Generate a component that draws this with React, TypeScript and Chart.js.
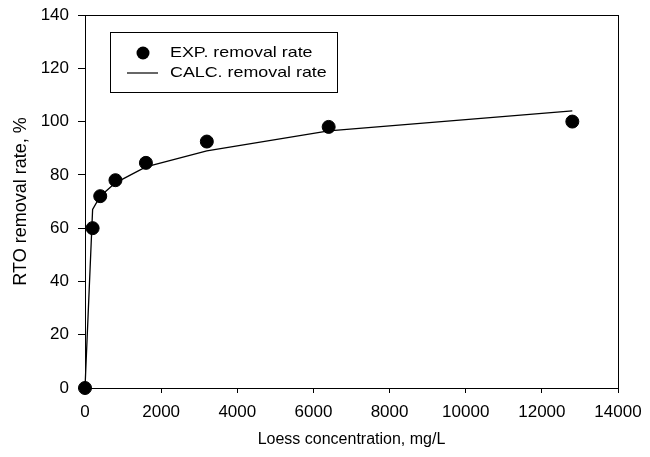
import React, { useEffect, useRef } from "react";
import { Chart, registerables } from "chart.js";

Chart.register(...registerables);

const concentrations = [0, 200, 400, 800, 1600, 3200, 6400, 12800];
const expRemoval = [0, 60, 72, 78, 84.5, 92.5, 98, 100];
const calcRemoval = [0, 67, 72, 77, 83, 89, 96.5, 104];
const legendLabels = ["EXP. removal rate", "CALC. removal rate"];
const xTitle = "Loess concentration, mg/L";
const yTitle = "RTO removal rate, %";

const FONT = "'Liberation Sans', Arial, sans-serif";

const framePlugin = {
  id: "frameLegend",
  afterDraw(chart: any) {
    const { ctx, chartArea } = chart;
    ctx.save();
    ctx.strokeStyle = "#000";
    ctx.lineWidth = 1;
    ctx.strokeRect(
      Math.round(chartArea.left) + 0.5,
      Math.round(chartArea.top) + 0.5,
      Math.round(chartArea.right - chartArea.left),
      Math.round(chartArea.bottom - chartArea.top)
    );
    // legend
    const bx = 110.5, by = 32.5, bw = 227, bh = 60;
    ctx.fillStyle = "#fff";
    ctx.fillRect(bx, by, bw, bh);
    ctx.strokeRect(bx, by, bw, bh);
    ctx.fillStyle = "#000";
    ctx.beginPath();
    ctx.arc(143, 53, 6.5, 0, Math.PI * 2);
    ctx.fill();
    ctx.beginPath();
    ctx.lineWidth = 1.2;
    ctx.moveTo(127, 73);
    ctx.lineTo(158, 73);
    ctx.stroke();
    ctx.font = `15px ${FONT}`;
    ctx.textBaseline = "middle";
    ctx.textAlign = "left";
    ctx.translate(170, 0);
    ctx.scale(1.19, 1);
    ctx.fillText(legendLabels[0], 0, 53);
    ctx.fillText(legendLabels[1], 0, 73);
    ctx.restore();
  },
};

export default function App() {
  const ref = useRef<HTMLCanvasElement>(null);
  useEffect(() => {
    document.body.style.margin = "0";
    const canvas = ref.current!;
    const chart = new Chart(canvas, {
      type: "scatter",
      data: {
        datasets: [
          {
            label: legendLabels[0],
            data: concentrations.map((x, i) => ({ x, y: expRemoval[i] })),
            backgroundColor: "#000",
            borderColor: "#000",
            pointRadius: 6.5,
            pointHoverRadius: 6.5,
            showLine: false,
            clip: false as any,
          },
          {
            label: legendLabels[1],
            data: concentrations.map((x, i) => ({ x, y: calcRemoval[i] })),
            borderColor: "#000",
            backgroundColor: "#000",
            borderWidth: 1.3,
            pointRadius: 0,
            showLine: true,
            tension: 0,
            clip: false as any,
          },
        ],
      },
      options: {
        animation: false,
        responsive: false,
        events: [],
        layout: { padding: { left: 0, top: 15, right: 32, bottom: 0 } },
        plugins: { legend: { display: false }, tooltip: { enabled: false } },
        scales: {
          x: {
            type: "linear",
            min: 0,
            max: 14000,
            ticks: {
              stepSize: 2000,
              color: "#000",
              padding: 9,
              font: { family: FONT, size: 17 },
              maxRotation: 0,
              callback: (v: any) => String(v),
            },
            grid: {
              drawOnChartArea: false,
              drawTicks: true,
              tickLength: 5,
              tickColor: "#000",
            },
            border: { display: true, color: "#000", width: 1 },
            title: {
              display: true,
              text: xTitle,
              color: "#000",
              font: { family: FONT, size: 16 },
              padding: { top: 10, bottom: 8 },
            },
            afterFit(scale: any) {
              scale.height = 69;
              scale.paddingLeft = 0;
              scale.paddingRight = 0;
            },
          },
          y: {
            type: "linear",
            min: 0,
            max: 140,
            ticks: {
              stepSize: 20,
              color: "#000",
              padding: 9,
              font: { family: FONT, size: 17 },
              callback: (v: any) => String(v),
            },
            grid: {
              drawOnChartArea: false,
              drawTicks: true,
              tickLength: 7,
              tickColor: "#000",
            },
            border: { display: true, color: "#000", width: 1 },
            title: {
              display: true,
              text: yTitle,
              color: "#000",
              font: { family: FONT, size: 18 },
              padding: { top: 10, bottom: 4 },
            },
            afterFit(scale: any) {
              scale.width = 85;
              scale.paddingTop = 0;
              scale.paddingBottom = 0;
            },
          },
        },
      },
      plugins: [framePlugin],
    });
    return () => chart.destroy();
  }, []);
  return (
    <div style={{ width: 650, height: 457, background: "#fff" }}>
      <canvas ref={ref} width={650} height={457} style={{ display: "block" }} />
    </div>
  );
}
